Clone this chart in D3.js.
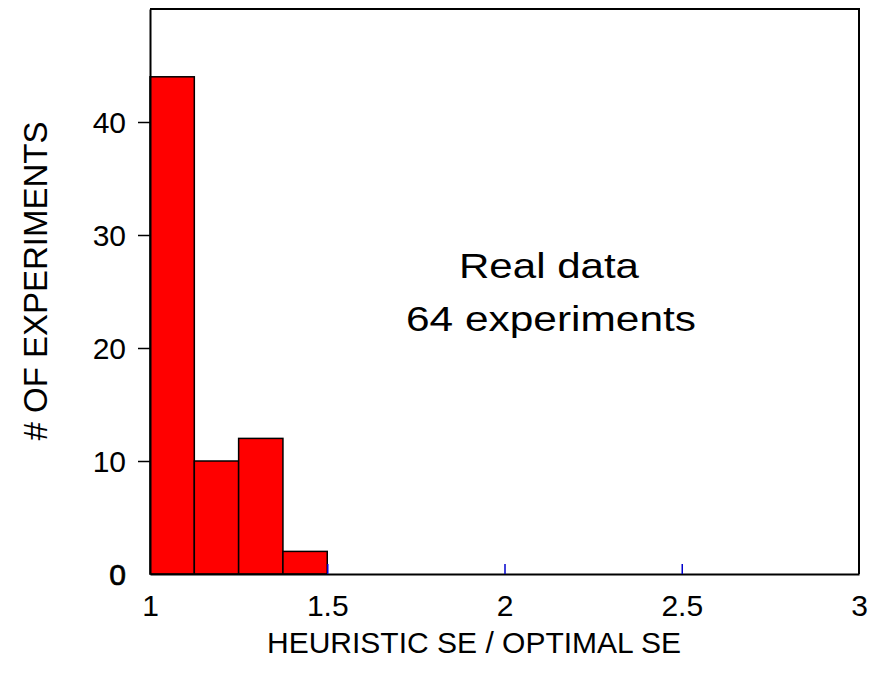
<!DOCTYPE html>
<html>
<head>
<meta charset="utf-8">
<script src="https://cdn.jsdelivr.net/npm/d3@7"></script>
<style>
  body { margin: 0; background: #fff; }
  svg text { font-family: "Liberation Sans", Arial, sans-serif; fill: #000; }
</style>
</head>
<body>
<div class="chart"></div>
<script>
// histogram of heuristic SE / optimal SE

const binStarts = [1, 1.125, 1.25, 1.375]
const binWidth = 0.125
const counts = [44, 10, 12, 2]

const xTicks = [1, 1.5, 2, 2.5, 3]
const yTicks = [0, 10, 20, 30, 40]

var svgWidth = 881
var svgHeight = 681

var margin = { top: 9, right: 22, bottom: 107, left: 150 }
var width = svgWidth - margin.left - margin.right
var height = svgHeight - margin.top - margin.bottom

var svg = d3.select('.chart')
    .append('svg')
    .attr('width', svgWidth)
    .attr('height', svgHeight)

var chartGroup = svg.append('g')
    .attr('transform', `translate(${margin.left}, ${margin.top})`)

var xScale = d3.scaleLinear().domain([1, 3]).range([0, width])
var yScale = d3.scaleLinear().domain([0, 50]).range([height, 0])

var data = binStarts.map((b, i) => ({ x0: b, x1: b + binWidth, n: counts[i] }))

// bars
chartGroup.selectAll('rect.bar')
    .data(data)
    .enter()
    .append('rect')
    .classed('bar', true)
    .attr('x', d => xScale(d.x0))
    .attr('y', d => yScale(d.n))
    .attr('width', d => xScale(d.x1) - xScale(d.x0))
    .attr('height', d => yScale(0) - yScale(d.n))
    .attr('fill', '#ff0000')
    .attr('stroke', '#000')
    .attr('stroke-width', 1.5)

// frame (top + right)
chartGroup.append('path')
    .attr('d', `M0,0 H${width} V${height}`)
    .attr('fill', 'none')
    .attr('stroke', '#000')
    .attr('stroke-width', 2)

// Y axis, ticks outward
var yAxis = chartGroup.append('g')
    .classed('y', true)
    .call(d3.axisLeft(yScale).tickValues(yTicks).tickSize(12).tickPadding(12).tickSizeOuter(0))
yAxis.select('.domain').attr('stroke', '#000').attr('stroke-width', 2)
yAxis.selectAll('.tick line').attr('stroke', '#000').attr('stroke-width', 1.5)
yAxis.selectAll('.tick').filter(d => d === 0).select('line').remove()
yAxis.selectAll('.tick text')
    .attr('font-size', '30px')
    .attr('font-family', '"Liberation Sans", Arial, sans-serif')
    .attr('dy', '0.36em')
yAxis.selectAll('.tick').filter(d => d === 0).select('text')
    .attr('stroke', '#000').attr('stroke-width', 0.7)

// X axis, blue ticks pointing inward
var xAxis = chartGroup.append('g')
    .classed('x', true)
    .attr('transform', `translate(0, ${height})`)
    .call(d3.axisBottom(xScale).tickValues(xTicks).tickFormat(d => String(d))
        .tickSize(-10).tickPadding(21).tickSizeOuter(0))
xAxis.select('.domain').attr('stroke', '#000').attr('stroke-width', 2)
xAxis.selectAll('.tick line').attr('stroke', '#0000cc').attr('stroke-width', 1.5)
xAxis.selectAll('.tick').filter(d => d === 1 || d === 3).select('line').remove()
xAxis.selectAll('.tick text')
    .attr('font-size', '30px')
    .attr('font-family', '"Liberation Sans", Arial, sans-serif')
    .attr('dy', '0.71em')

// axis titles
svg.append('text')
    .attr('transform', 'translate(47, 281) rotate(-90)')
    .attr('text-anchor', 'middle')
    .attr('font-size', '33px')
    .text('# OF EXPERIMENTS')

svg.append('text')
    .attr('x', 474)
    .attr('y', 653)
    .attr('text-anchor', 'middle')
    .attr('font-size', '30px')
    .text('HEURISTIC SE / OPTIMAL SE')

// annotation (stretched wide in the original)
svg.append('text')
    .attr('x', 549)
    .attr('y', 278)
    .attr('text-anchor', 'middle')
    .attr('font-size', '35px')
    .attr('textLength', 180)
    .attr('lengthAdjust', 'spacingAndGlyphs')
    .text('Real data')

svg.append('text')
    .attr('x', 551)
    .attr('y', 331)
    .attr('text-anchor', 'middle')
    .attr('font-size', '35px')
    .attr('textLength', 290)
    .attr('lengthAdjust', 'spacingAndGlyphs')
    .text('64 experiments')
</script>
</body>
</html>
